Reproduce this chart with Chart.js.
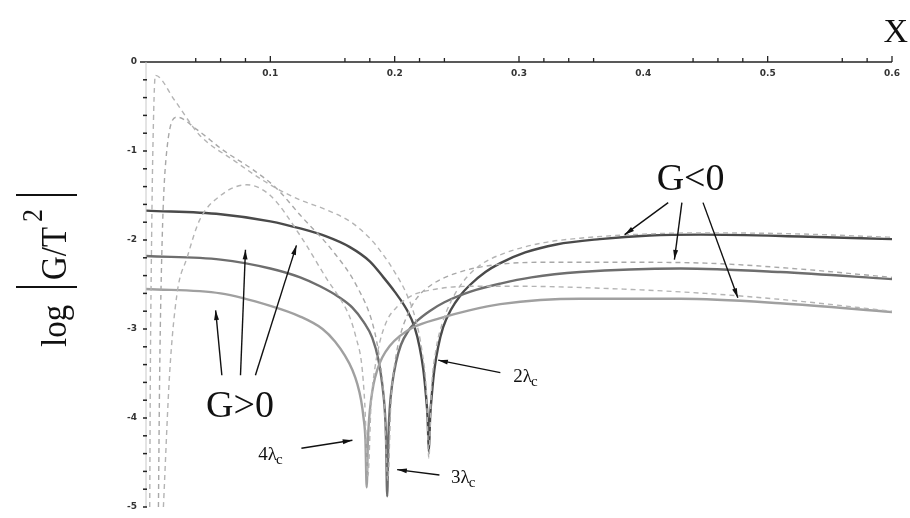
<!DOCTYPE html>
<html lang="en">
    <head>
        <meta charset="UTF-8" />
        <title>log |G/T²| vs X</title>
        <script src="https://cdn.jsdelivr.net/npm/chart.js"></script>
        <style>
            html, body { margin: 0; padding: 0; background: #fff; }
            #wrap { width: 910px; height: 518px; }
        </style>
    </head>
    <body>
        <div id="wrap"><canvas id="gChart" width="910" height="518"></canvas></div>

        <script>
            // Solid curves: 2λc, 3λc, 4λc
            const x2 = [0, 0.06, 0.10, 0.124, 0.145, 0.164, 0.180, 0.191, 0.200, 0.210, 0.216, 0.220, 0.223, 0.225, 0.2265, 0.2275, 0.2285, 0.230, 0.232, 0.235, 0.239, 0.245, 0.253, 0.261, 0.273, 0.285, 0.305, 0.33, 0.365, 0.405, 0.446, 0.526, 0.6];
            const g2 = [-1.67, -1.71, -1.79, -1.87, -1.96, -2.08, -2.24, -2.42, -2.58, -2.79, -2.98, -3.20, -3.45, -3.72, -4.00, -4.38, -4.00, -3.72, -3.45, -3.20, -2.98, -2.79, -2.62, -2.50, -2.36, -2.26, -2.14, -2.05, -1.99, -1.95, -1.94, -1.96, -1.99];

            const x3 = [0, 0.06, 0.10, 0.124, 0.14, 0.155, 0.166, 0.175, 0.182, 0.187, 0.190, 0.192, 0.193, 0.194, 0.195, 0.196, 0.198, 0.201, 0.205, 0.211, 0.218, 0.228, 0.24, 0.261, 0.285, 0.31, 0.349, 0.43, 0.51, 0.6];
            const g3 = [-2.18, -2.22, -2.32, -2.42, -2.52, -2.64, -2.76, -2.92, -3.10, -3.35, -3.62, -3.90, -4.20, -4.88, -4.20, -3.90, -3.62, -3.38, -3.18, -3.02, -2.91, -2.80, -2.70, -2.58, -2.49, -2.42, -2.36, -2.32, -2.36, -2.44];

            const x4 = [0, 0.06, 0.10, 0.124, 0.142, 0.152, 0.160, 0.166, 0.170, 0.173, 0.175, 0.1765, 0.1775, 0.1785, 0.1795, 0.181, 0.183, 0.186, 0.190, 0.196, 0.204, 0.215, 0.236, 0.26, 0.285, 0.349, 0.43, 0.51, 0.6];
            const g4 = [-2.55, -2.60, -2.74, -2.86, -3.00, -3.14, -3.30, -3.46, -3.62, -3.80, -4.00, -4.25, -4.78, -4.25, -4.00, -3.80, -3.62, -3.46, -3.32, -3.19, -3.08, -2.98, -2.88, -2.79, -2.72, -2.66, -2.66, -2.71, -2.81];

            // Dashed curves
            const xd2 = [0.003, 0.0035, 0.0045, 0.0055, 0.0075, 0.023, 0.043, 0.07, 0.10, 0.124, 0.145, 0.165, 0.18, 0.19, 0.2, 0.21, 0.217, 0.222, 0.2255, 0.2275, 0.2295, 0.233, 0.238, 0.245, 0.255, 0.269, 0.29, 0.32, 0.349, 0.39, 0.45, 0.52, 0.6];
            const gd2 = [-5, -3.5, -2, -1, -0.15, -0.43, -0.82, -1.10, -1.38, -1.55, -1.66, -1.80, -1.98, -2.15, -2.36, -2.62, -2.90, -3.25, -3.70, -4.45, -3.70, -3.25, -2.95, -2.70, -2.47, -2.28, -2.14, -2.03, -1.98, -1.94, -1.92, -1.93, -1.97];

            const xd3 = [0.010, 0.011, 0.013, 0.016, 0.025, 0.041, 0.062, 0.086, 0.105, 0.124, 0.15, 0.17, 0.183, 0.188, 0.1915, 0.1945, 0.197, 0.2, 0.204, 0.21, 0.218, 0.23, 0.25, 0.28, 0.32, 0.38, 0.45, 0.52, 0.6];
            const gd3 = [-5, -3.5, -2, -1.1, -0.62, -0.76, -0.99, -1.21, -1.42, -1.72, -2.12, -2.53, -2.98, -3.35, -3.80, -4.70, -3.80, -3.40, -3.10, -2.85, -2.65, -2.50, -2.37, -2.28, -2.25, -2.25, -2.26, -2.32, -2.42];

            const xd4 = [0.014, 0.019, 0.025, 0.033, 0.043, 0.06, 0.081, 0.10, 0.124, 0.146, 0.157, 0.164, 0.169, 0.1735, 0.176, 0.1785, 0.181, 0.184, 0.188, 0.194, 0.202, 0.213, 0.23, 0.26, 0.3, 0.38, 0.45, 0.52, 0.6];
            const gd4 = [-5, -3.5, -2.6, -2.2, -1.78, -1.50, -1.38, -1.50, -1.95, -2.45, -2.68, -2.87, -3.10, -3.40, -3.85, -4.65, -3.85, -3.45, -3.15, -2.90, -2.75, -2.63, -2.56, -2.52, -2.52, -2.55, -2.6, -2.68, -2.8];

            // Axis ticks
            const xTicks = [0.04, 0.06, 0.08, 0.1, 0.16, 0.18, 0.2, 0.22, 0.24, 0.3, 0.32, 0.34, 0.36, 0.44, 0.46, 0.48, 0.5, 0.56, 0.58, 0.6];
            const xLabels = [0.1, 0.2, 0.3, 0.4, 0.5, 0.6];
            const yLabels = [-1, -2, -3, -4, -5];

            function pts(xs, ys) {
                return xs.map((x, i) => ({ x: x, y: ys[i] }));
            }

            function solid(data, color) {
                return { data: data, borderColor: color, borderWidth: 2.4, pointRadius: 0, cubicInterpolationMode: "monotone", fill: false };
            }

            function dashed(data, color) {
                return { data: data, borderColor: color, borderWidth: 1.4, borderDash: [5, 4], pointRadius: 0, cubicInterpolationMode: "monotone", fill: false };
            }

            // Annotations, in data units
            const arrows = [
                [0.061, -3.52, 0.056, -2.79],
                [0.076, -3.52, 0.080, -2.11],
                [0.088, -3.52, 0.121, -2.06],
                [0.420, -1.58, 0.385, -1.94],
                [0.431, -1.58, 0.425, -2.22],
                [0.448, -1.58, 0.476, -2.65],
                [0.285, -3.49, 0.235, -3.35],
                [0.236, -4.64, 0.202, -4.58],
                [0.125, -4.34, 0.166, -4.25],
            ];
            const lambdaLabels = [
                ["2", 0.309, -3.54],
                ["3", 0.259, -4.67],
                ["4", 0.104, -4.42],
            ];

            const serif = "'Liberation Serif', 'DejaVu Serif', serif";

            const decor = {
                id: "decor",
                afterDraw(chart) {
                    const ctx = chart.ctx;
                    const xs = chart.scales.x;
                    const ys = chart.scales.y;
                    const a = chart.chartArea;
                    const y0 = ys.getPixelForValue(0);
                    const x0 = xs.getPixelForValue(0);
                    ctx.save();

                    // top axis
                    ctx.strokeStyle = "#222";
                    ctx.lineWidth = 1.5;
                    ctx.beginPath();
                    ctx.moveTo(x0 - 6, y0);
                    ctx.lineTo(a.right, y0);
                    ctx.stroke();
                    ctx.lineWidth = 1.3;
                    xTicks.forEach((t) => {
                        const px = xs.getPixelForValue(t);
                        const major = xLabels.some((v) => Math.abs(v - t) < 1e-6);
                        ctx.beginPath();
                        ctx.moveTo(px, y0);
                        ctx.lineTo(px, y0 - (major ? 6 : 4));
                        ctx.stroke();
                    });
                    ctx.fillStyle = "#333";
                    ctx.font = "bold 9px 'DejaVu Sans', sans-serif";
                    ctx.textAlign = "center";
                    ctx.textBaseline = "top";
                    xLabels.forEach((v) => {
                        ctx.fillText(v.toString(), xs.getPixelForValue(v), y0 + 7);
                    });
                    ctx.textAlign = "right";
                    ctx.textBaseline = "middle";
                    ctx.fillText("0", x0 - 9, y0);

                    // left axis, ticks every 0.2
                    ctx.strokeStyle = "#c8c8c8";
                    ctx.lineWidth = 1;
                    ctx.beginPath();
                    ctx.moveTo(x0, y0);
                    ctx.lineTo(x0, ys.getPixelForValue(-5));
                    ctx.stroke();
                    ctx.strokeStyle = "#222";
                    ctx.lineWidth = 1.5;
                    for (let k = 1; k <= 25; k++) {
                        const py = ys.getPixelForValue(-k * 0.2);
                        ctx.beginPath();
                        ctx.moveTo(x0 - 3, py);
                        ctx.lineTo(x0 + 1, py);
                        ctx.stroke();
                    }
                    yLabels.forEach((v) => {
                        ctx.fillText(v.toString(), x0 - 9, ys.getPixelForValue(v));
                    });

                    // axis titles
                    ctx.fillStyle = "#111";
                    ctx.font = "34px " + serif;
                    ctx.textAlign = "right";
                    ctx.textBaseline = "alphabetic";
                    ctx.fillText("X", a.right + 16, y0 - 20);

                    // rotated y title: log |G/T²|
                    ctx.save();
                    ctx.translate(a.left - 80, a.top + 285);
                    ctx.rotate(-Math.PI / 2);
                    ctx.scale(1, 1.1);
                    ctx.textAlign = "left";
                    ctx.font = "33px " + serif;
                    ctx.fillText("log", 0, 0);
                    ctx.fillText("G/T", 67, 0);
                    ctx.font = "26px " + serif;
                    ctx.fillText("2", 125, -22);
                    ctx.restore();
                    ctx.save();
                    ctx.translate(a.left - 80, a.top + 285);
                    ctx.rotate(-Math.PI / 2);
                    ctx.strokeStyle = "#111";
                    ctx.lineWidth = 1.8;
                    ctx.beginPath();
                    ctx.moveTo(60, 11);
                    ctx.lineTo(60, -50);
                    ctx.moveTo(152, 11);
                    ctx.lineTo(152, -50);
                    ctx.stroke();
                    ctx.restore();

                    // G labels
                    ctx.font = "38px " + serif;
                    ctx.textAlign = "center";
                    ctx.textBaseline = "middle";
                    ctx.fillText("G<0", xs.getPixelForValue(0.438), ys.getPixelForValue(-1.33));
                    ctx.fillText("G>0", xs.getPixelForValue(0.0756), ys.getPixelForValue(-3.88));

                    // λc labels
                    lambdaLabels.forEach(([n, x, y]) => {
                        const px = xs.getPixelForValue(x);
                        const py = ys.getPixelForValue(y);
                        ctx.font = "19px " + serif;
                        ctx.textAlign = "left";
                        const t = n + "λ";
                        const w = ctx.measureText(t).width;
                        ctx.fillText(t, px - 17, py);
                        ctx.font = "15px " + serif;
                        ctx.fillText("c", px - 17 + w - 1, py + 5);
                    });

                    // arrows
                    ctx.strokeStyle = "#111";
                    ctx.fillStyle = "#111";
                    ctx.lineWidth = 1.4;
                    arrows.forEach(([xa, ya, xb, yb]) => {
                        const p1 = [xs.getPixelForValue(xa), ys.getPixelForValue(ya)];
                        const p2 = [xs.getPixelForValue(xb), ys.getPixelForValue(yb)];
                        const ang = Math.atan2(p2[1] - p1[1], p2[0] - p1[0]);
                        ctx.beginPath();
                        ctx.moveTo(p1[0], p1[1]);
                        ctx.lineTo(p2[0], p2[1]);
                        ctx.stroke();
                        ctx.beginPath();
                        ctx.moveTo(p2[0], p2[1]);
                        ctx.lineTo(p2[0] - 10 * Math.cos(ang - 0.25), p2[1] - 10 * Math.sin(ang - 0.25));
                        ctx.lineTo(p2[0] - 10 * Math.cos(ang + 0.25), p2[1] - 10 * Math.sin(ang + 0.25));
                        ctx.closePath();
                        ctx.fill();
                    });
                    ctx.restore();
                },
            };

            new Chart(document.getElementById("gChart"), {
                type: "line",
                data: {
                    datasets: [
                        dashed(pts(xd2, gd2), "#b4b4b4"),
                        dashed(pts(xd3, gd3), "#a8a8a8"),
                        dashed(pts(xd4, gd4), "#b4b4b4"),
                        solid(pts(x4, g4), "#a0a0a0"),
                        solid(pts(x3, g3), "#6e6e6e"),
                        solid(pts(x2, g2), "#4a4a4a"),
                    ],
                },
                options: {
                    responsive: false,
                    animation: false,
                    layout: { padding: { left: 146, top: 62, right: 18, bottom: 11 } },
                    plugins: { legend: { display: false }, tooltip: { enabled: false } },
                    scales: {
                        x: { type: "linear", min: 0, max: 0.6, display: false },
                        y: { type: "linear", min: -5, max: 0, display: false },
                    },
                },
                plugins: [decor],
            });
        </script>
    </body>
</html>
